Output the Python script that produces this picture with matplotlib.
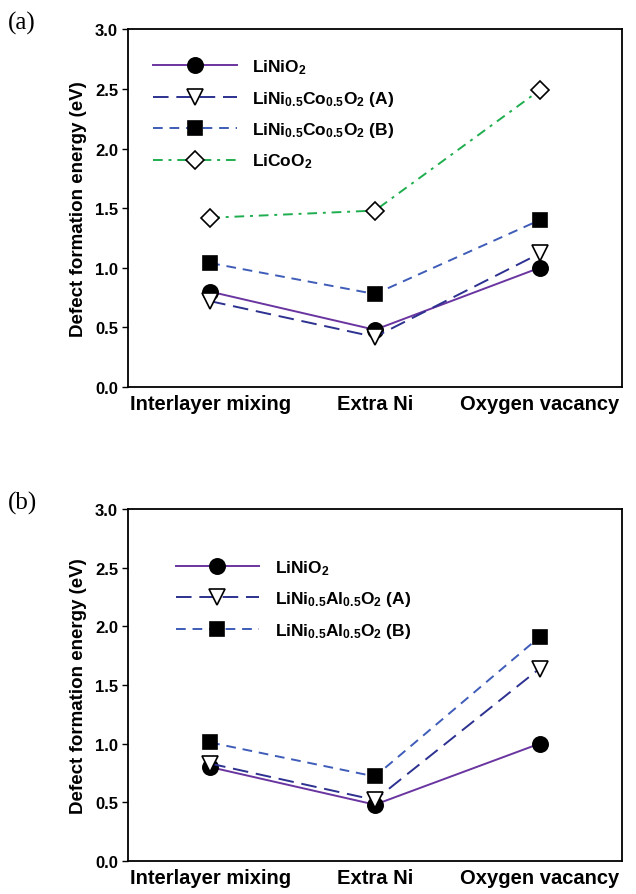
import numpy as np
import matplotlib
matplotlib.use("Agg")
import matplotlib.pyplot as plt

# -----------------------------
# Dados
# -----------------------------
defeitos = ["Interlayer mixing", "Extra Ni", "Oxygen vacancy"]

# painel (a)
lnio_a = [0.80, 0.48, 1.00]
nco_a = [0.72, 0.42, 1.12]
nco_b = [1.04, 0.78, 1.40]
lco = [1.42, 1.48, 2.49]

# painel (b)
lnio_b = [0.80, 0.48, 1.00]
nal_a = [0.83, 0.52, 1.64]
nal_b = [1.01, 0.72, 1.91]

labels_a = [r"LiNiO$_2$", r"LiNi$_{0.5}$Co$_{0.5}$O$_2$ (A)",
            r"LiNi$_{0.5}$Co$_{0.5}$O$_2$ (B)", r"LiCoO$_2$"]
labels_b = [r"LiNiO$_2$", r"LiNi$_{0.5}$Al$_{0.5}$O$_2$ (A)",
            r"LiNi$_{0.5}$Al$_{0.5}$O$_2$ (B)"]

# -----------------------------
# Estilo
# -----------------------------
plt.rcParams["font.family"] = ["Liberation Sans", "DejaVu Sans"]
plt.rcParams["font.weight"] = "bold"
plt.rcParams["mathtext.fontset"] = "custom"
plt.rcParams["mathtext.rm"] = "Liberation Sans:bold"
plt.rcParams["mathtext.bf"] = "Liberation Sans:bold"
plt.rcParams["mathtext.default"] = "rm"

roxo = "#6a35a0"
azul_esc = "#2d3190"
azul = "#3e5cb8"
verde = "#1fae4f"

x = np.arange(1, len(defeitos) + 1)
fig = plt.figure(figsize=(6.36, 8.95), dpi=100)
ax1 = fig.add_axes([0.201, 0.5665, 0.777, 0.3995])
ax2 = fig.add_axes([0.201, 0.0369, 0.777, 0.3933])

ms = 10
kw = dict(markeredgecolor="black", markeredgewidth=1.2, lw=1.4)
leg_prop = {"weight": "bold", "size": 12.5}

def estilo(ax):
    ax.set_xlim(0.5, 3.5)
    ax.set_ylim(0, 3.0)
    ax.set_yticks(np.arange(0, 3.01, 0.5))
    ax.set_yticklabels([f"{v:.1f}" for v in np.arange(0, 3.01, 0.5)],
                       fontsize=12, fontweight="bold")
    ax.set_xticks(x)
    ax.set_xticklabels(defeitos, fontsize=14.5, fontweight="bold")
    ax.tick_params(axis="x", length=0, pad=5)
    ax.tick_params(axis="y", length=4, width=1, direction="out", pad=3)
    for s in ax.spines.values():
        s.set_linewidth(1.3)
    ax.set_ylabel("Defect formation energy (eV)", fontsize=13.5,
                  fontweight="bold", labelpad=6)

# -----------------------------
# Painel (a)
# -----------------------------
ax1.plot(x, lnio_a, "-", color=roxo, marker="o", ms=ms + 1,
         markerfacecolor="black", label=labels_a[0], **kw)
ax1.plot(x, nco_a, color=azul_esc, dashes=(8, 4), marker="v", ms=ms + 1,
         markerfacecolor="white", label=labels_a[1], **kw)
ax1.plot(x, nco_b, color=azul, dashes=(5, 3.5), marker="s", ms=ms,
         markerfacecolor="black", label=labels_a[2], **kw)
ax1.plot(x, lco, color=verde, dashes=(5, 3, 1.5, 3), marker="D", ms=ms - 1,
         markerfacecolor="white", label=labels_a[3], **kw)
estilo(ax1)
ax1.legend(loc="upper left", bbox_to_anchor=(0.02, 0.965), frameon=False,
           handlelength=4.8, labelspacing=0.72, handletextpad=0.9,
           prop=leg_prop)

# -----------------------------
# Painel (b)
# -----------------------------
ax2.plot(x, lnio_b, "-", color=roxo, marker="o", ms=ms + 1,
         markerfacecolor="black", label=labels_b[0], **kw)
ax2.plot(x, nal_a, color=azul_esc, dashes=(8, 4), marker="v", ms=ms + 1,
         markerfacecolor="white", label=labels_b[1], **kw)
ax2.plot(x, nal_b, color=azul, dashes=(5, 3.5), marker="s", ms=ms,
         markerfacecolor="black", label=labels_b[2], **kw)
estilo(ax2)
ax2.legend(loc="upper left", bbox_to_anchor=(0.065, 0.905), frameon=False,
           handlelength=4.8, labelspacing=0.72, handletextpad=0.9,
           prop=leg_prop)

fig.text(0.012, 0.967, "(a)", fontsize=18, family="Liberation Serif",
         fontweight="normal")
fig.text(0.012, 0.431, "(b)", fontsize=18, family="Liberation Serif",
         fontweight="normal")

plt.savefig("out.png", dpi=100)
